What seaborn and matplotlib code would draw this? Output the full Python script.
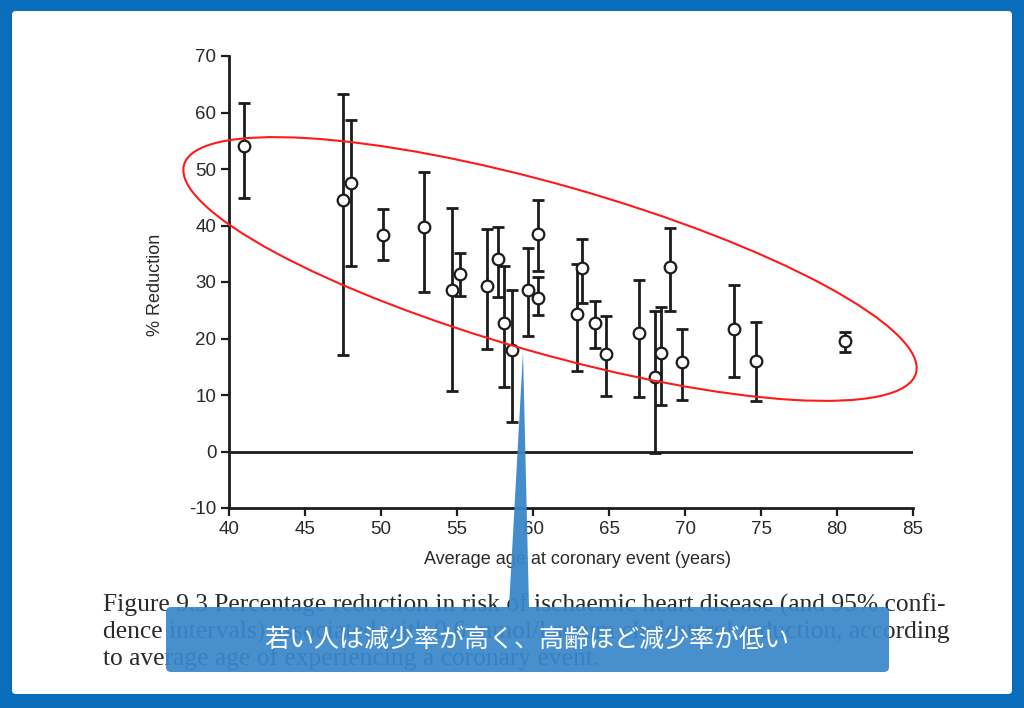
import numpy as np
import matplotlib
matplotlib.use("Agg")
import matplotlib.pyplot as plt
import seaborn as sns
from matplotlib.patches import Ellipse, FancyBboxPatch, Polygon

# values (age in years, % reduction with 95% CI)
age = [41.0, 47.5, 48.0, 50.1, 52.8, 54.7, 55.2, 57.0, 57.7, 58.1, 58.6, 59.7, 60.3,
       60.3, 62.9, 63.2, 64.1, 64.8, 67.0, 68.0, 68.4, 69.0, 69.8, 73.2, 74.7, 80.5]
reduction = [54.0, 44.5, 47.5, 38.4, 39.7, 28.6, 31.5, 29.3, 34.0, 22.8, 18.0, 28.6, 38.5,
             27.2, 24.3, 32.4, 22.8, 17.2, 20.9, 13.2, 17.4, 32.7, 15.8, 21.7, 16.1, 19.5]
ci_upper = [61.6, 63.3, 58.6, 42.9, 49.5, 43.1, 35.1, 39.3, 39.8, 32.9, 28.6, 36.1, 44.5,
            30.8, 33.1, 37.6, 26.7, 24.0, 30.4, 24.8, 25.5, 39.6, 21.7, 29.5, 22.9, 21.1]
ci_lower = [44.8, 17.0, 32.8, 33.9, 28.2, 10.7, 27.5, 18.2, 27.3, 11.4, 5.3, 20.4, 32.0,
            24.2, 14.3, 26.2, 18.4, 9.9, 9.6, -0.3, 8.3, 24.9, 9.1, 13.2, 8.9, 17.6]

xticks = [40, 45, 50, 55, 60, 65, 70, 75, 80, 85]
yticks = [-10, 0, 10, 20, 30, 40, 50, 60, 70]
ytick_labels = ["-10", "0", "10", "20", "30", "40", "50", "60", "70"]

caption = ["Figure 9.3 Percentage reduction in risk of ischaemic heart disease (and 95% confi-",
           "dence intervals) associated with 0.6 mmol/l serum cholesterol reduction, according",
           "to average age of experiencing a coronary event."]
callout = "若い人は減少率が高く、高齢ほど減少率が低い"

sns.set_theme(style="white")
plt.rcParams["font.family"] = ["Liberation Sans", "DejaVu Sans"]
plt.rcParams["axes.unicode_minus"] = False

ink = "#1c1c1c"
fig = plt.figure(figsize=(10.24, 7.08), dpi=100, facecolor="#0a6ebd")

# background panel + caption, in pixel coords
bg = fig.add_axes([0, 0, 1, 1], zorder=0)
bg.set_xlim(0, 1024)
bg.set_ylim(708, 0)
bg.axis("off")
bg.add_patch(FancyBboxPatch((12, 11), 1000, 683, boxstyle="round,pad=0,rounding_size=4",
                            facecolor="white", edgecolor="none"))
for i, line in enumerate(caption):
    bg.text(103, 605 + i * 27, line, ha="left", va="center", fontsize=18.4,
            family="Liberation Serif", color="#2a2a2a")

# the chart itself
ax = fig.add_axes([229 / 1024, 200 / 708, 684 / 1024, 452 / 708], zorder=1)
ax.set_facecolor("none")
ax.axhline(0, color=ink, lw=2, zorder=1)
low_err = np.array(reduction) - np.array(ci_lower)
up_err = np.array(ci_upper) - np.array(reduction)
ax.errorbar(age, reduction, yerr=[low_err, up_err], fmt="none", ecolor=ink,
            elinewidth=2, capsize=4.5, capthick=2, zorder=2)
sns.scatterplot(x=age, y=reduction, ax=ax, marker="o", s=70, facecolor="white",
                edgecolor=ink, linewidth=1.6, zorder=3)
ax.set_xlim(40, 85)
ax.set_ylim(-10, 70)
ax.set_xticks(xticks)
ax.set_yticks(yticks)
ax.set_yticklabels(ytick_labels)
ax.tick_params(axis="both", direction="out", length=6, width=1.6, color=ink,
               labelsize=13.5, labelcolor="#2a2a2a", pad=3, left=True, bottom=True)
sns.despine(ax=ax)
for side in ["left", "bottom"]:
    ax.spines[side].set_linewidth(2)
    ax.spines[side].set_color(ink)
ax.set_xlabel("Average age at coronary event (years)", fontsize=13, color="#2a2a2a")
ax.set_ylabel("% Reduction", fontsize=13, color="#2a2a2a")
ax.xaxis.set_label_coords(0.509, -0.095)
ax.yaxis.set_label_coords(-0.095, 0.493)
ax.grid(False)

# annotations on top: red ellipse and blue callout
ov = fig.add_axes([0, 0, 1, 1], zorder=3)
ov.set_xlim(0, 1024)
ov.set_ylim(708, 0)
ov.axis("off")
ov.patch.set_alpha(0)
ov.add_patch(Ellipse((550, 269), 761, 168, angle=15.9, fill=False, edgecolor="#ff1a1a", lw=1.5))
blue = "#3a87cb"
ov.add_patch(Polygon([(509, 607), (529, 607), (523, 352)], closed=True, facecolor=blue,
                     edgecolor="none", alpha=0.95))
ov.add_patch(FancyBboxPatch((166, 607), 723, 65, boxstyle="round,pad=0,rounding_size=5",
                            facecolor=blue, edgecolor="none", alpha=0.93))
ov.text(527, 640, callout, ha="center", va="center", color="white", fontsize=18,
        family=["Noto Sans CJK JP", "DejaVu Sans"])

plt.savefig("out.png", dpi=100, facecolor=fig.get_facecolor())
